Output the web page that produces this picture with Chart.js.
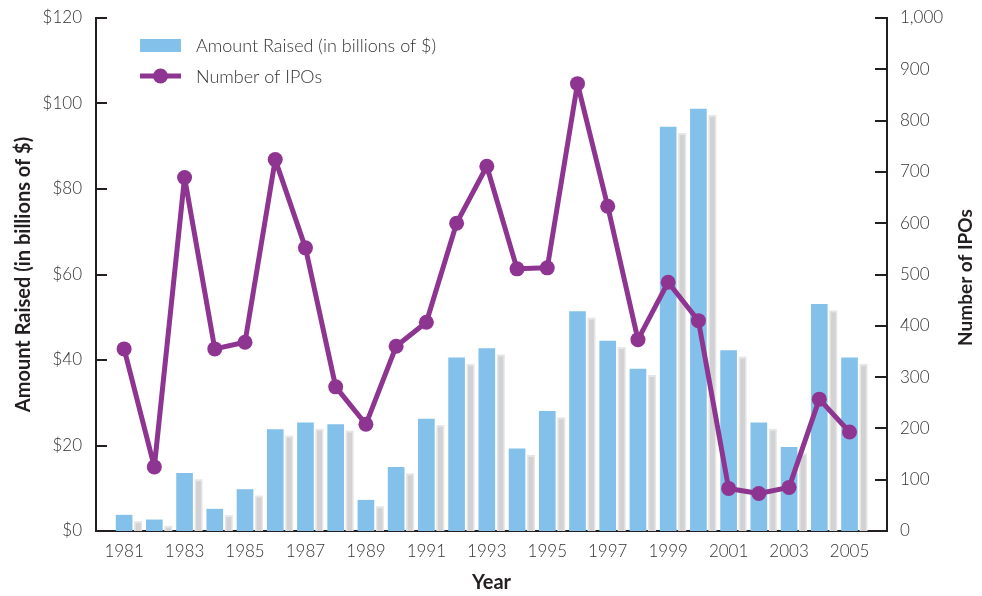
<!DOCTYPE html>
<html>
<head>
<meta charset="utf-8">
<script src="https://cdn.jsdelivr.net/npm/chart.js@4"></script>
<style>
  html, body { margin: 0; padding: 0; background: #fff; }
  #wrap { width: 982px; height: 596px; }
</style>
</head>
<body>
<div id="wrap"><canvas id="ipoChart"></canvas></div>
<script>
// ---------------- Data -----------------------

const years = [1981, 1982, 1983, 1984, 1985, 1986, 1987, 1988, 1989, 1990,
  1991, 1992, 1993, 1994, 1995, 1996, 1997, 1998, 1999, 2000,
  2001, 2002, 2003, 2004, 2005];
const amountRaised = [3.7, 2.6, 13.5, 5.1, 9.7, 23.7, 25.3, 24.9, 7.2, 14.9,
  26.2, 40.5, 42.7, 19.2, 28.0, 51.3, 44.4, 37.9, 94.5, 98.7,
  42.2, 25.3, 19.6, 53.0, 40.5];
const ipoCount = [355, 125, 689, 355, 368, 724, 552, 281, 208, 360,
  407, 600, 711, 511, 513, 872, 633, 373, 485, 410,
  83, 73, 85, 257, 193];
const yearTicks = [1981, 1983, 1985, 1987, 1989, 1991, 1993, 1995, 1997, 1999, 2001, 2003, 2005];
const amountTicks = [0, 20, 40, 60, 80, 100, 120];
const ipoTicks = [0, 100, 200, 300, 400, 500, 600, 700, 800, 900, 1000];

const BLUE = "#83c1ea";
const PURPLE = "#8e3592";
const INK = "#231f20";
const TEXT = "#333333";
const FONT = "Lato, 'Open Sans', sans-serif";

// ---------------- Helpers -----------------------

const toTickObjs = (arr) => arr.map((v) => ({ value: v }));

// keep tick-label overhang from pushing the plot area around
const fixWidth = (w) => (s) => {
  s.width = w;
  s.paddingTop = 0;
  s.paddingBottom = 0;
};

// gray drop shadow behind each bar, inward axis ticks, right title, legend
const decorPlugin = {
  id: "decor",
  beforeDatasetsDraw(chart) {
    const ctx = chart.ctx;
    const meta = chart.getDatasetMeta(1);
    ctx.save();
    meta.data.forEach((bar) => {
      const x0 = bar.x + bar.width / 2 + 2;
      const top = bar.y + 6;
      ctx.fillStyle = "#e6e6e7";
      ctx.fillRect(x0, top, 8, bar.base - top);
      ctx.fillStyle = "#d2d2d4";
      ctx.fillRect(x0 + 1.5, top + 2, 5, bar.base - top - 2);
    });
    ctx.restore();
  },
  afterDraw(chart) {
    const ctx = chart.ctx;
    const area = chart.chartArea;
    const yAmt = chart.scales.yAmt;
    const yIpo = chart.scales.yIpo;
    ctx.save();
    ctx.strokeStyle = INK;
    ctx.lineWidth = 2;
    amountTicks.forEach((v) => {
      const y = Math.round(yAmt.getPixelForValue(v));
      ctx.beginPath();
      ctx.moveTo(area.left, y);
      ctx.lineTo(area.left + 11, y);
      ctx.stroke();
    });
    ipoTicks.forEach((v) => {
      const y = Math.round(yIpo.getPixelForValue(v));
      ctx.beginPath();
      ctx.moveTo(area.right - 12, y);
      ctx.lineTo(area.right, y);
      ctx.stroke();
    });

    // right axis title, reading bottom to top
    ctx.translate(966, (area.top + area.bottom) / 2 + 3);
    ctx.rotate(-Math.PI / 2);
    ctx.fillStyle = INK;
    ctx.font = "bold 19px " + FONT;
    ctx.textAlign = "center";
    ctx.textBaseline = "middle";
    ctx.fillText("Number of IPOs", 0, 0);
    ctx.restore();

    // legend
    ctx.save();
    ctx.fillStyle = BLUE;
    ctx.fillRect(140, 39, 41, 13);
    ctx.strokeStyle = PURPLE;
    ctx.lineWidth = 5;
    ctx.beginPath();
    ctx.moveTo(140, 76);
    ctx.lineTo(181, 76);
    ctx.stroke();
    ctx.fillStyle = PURPLE;
    ctx.beginPath();
    ctx.arc(160.5, 76, 7.5, 0, Math.PI * 2);
    ctx.fill();
    ctx.fillStyle = TEXT;
    ctx.font = "300 18px " + FONT;
    ctx.textAlign = "left";
    ctx.textBaseline = "middle";
    ctx.fillText(chart.data.datasets[1].label, 196, 46);
    ctx.fillText(chart.data.datasets[0].label, 196, 77);
    ctx.restore();
  }
};

// ---------------- Chart -----------------------

new Chart(document.getElementById("ipoChart"), {
  data: {
    datasets: [
      {
        type: "line",
        label: "Number of IPOs",
        data: years.map((yr, i) => ({ x: yr, y: ipoCount[i] })),
        yAxisID: "yIpo",
        borderColor: PURPLE,
        borderWidth: 5,
        borderJoinStyle: "round",
        pointRadius: 7.5,
        pointBackgroundColor: PURPLE,
        pointBorderWidth: 0,
        tension: 0,
        order: 0
      },
      {
        type: "bar",
        label: "Amount Raised (in billions of $)",
        data: years.map((yr, i) => ({ x: yr, y: amountRaised[i] })),
        yAxisID: "yAmt",
        backgroundColor: BLUE,
        barThickness: 16,
        order: 1
      }
    ]
  },
  options: {
    responsive: true,
    maintainAspectRatio: false,
    animation: false,
    layout: { padding: { top: 18, left: 0, right: 0, bottom: 0 } },
    plugins: { legend: { display: false }, tooltip: { enabled: false } },
    scales: {
      x: {
        type: "linear",
        offset: false,
        min: 1980.07,
        max: 2006.24,
        afterBuildTicks: (s) => { s.ticks = toTickObjs(yearTicks); },
        afterFit: (s) => { s.height = 65; s.paddingLeft = 0; s.paddingRight = 0; },
        grid: { display: false, drawTicks: false },
        border: { display: true, color: INK, width: 2 },
        ticks: {
          autoSkip: false,
          maxRotation: 0,
          padding: 10,
          color: TEXT,
          font: { family: FONT, size: 17, weight: "300" },
          callback: (v) => String(v)
        },
        title: {
          display: true,
          text: "Year",
          color: INK,
          font: { family: FONT, size: 20, weight: "bold" },
          padding: { top: 0, bottom: 1 }
        }
      },
      yAmt: {
        type: "linear",
        position: "left",
        min: 0,
        max: 120,
        afterBuildTicks: (s) => { s.ticks = toTickObjs(amountTicks); },
        afterFit: fixWidth(96),
        grid: { display: false, drawTicks: false },
        border: { display: true, color: INK, width: 2 },
        ticks: {
          padding: 14,
          color: TEXT,
          font: { family: FONT, size: 17, weight: "300" },
          callback: (v) => "$" + v
        },
        title: {
          display: true,
          text: "Amount Raised (in billions of $)",
          color: INK,
          font: { family: FONT, size: 20, weight: "bold" },
          padding: { top: 12, bottom: 0 }
        }
      },
      yIpo: {
        type: "linear",
        position: "right",
        min: 0,
        max: 1000,
        afterBuildTicks: (s) => { s.ticks = toTickObjs(ipoTicks); },
        afterFit: fixWidth(95),
        grid: { display: false, drawTicks: false },
        border: { display: true, color: INK, width: 2 },
        ticks: {
          padding: 13,
          color: TEXT,
          font: { family: FONT, size: 17, weight: "300" },
          callback: (v) => v.toLocaleString("en-US")
        }
      }
    }
  },
  plugins: [decorPlugin]
});
</script>
</body>
</html>
